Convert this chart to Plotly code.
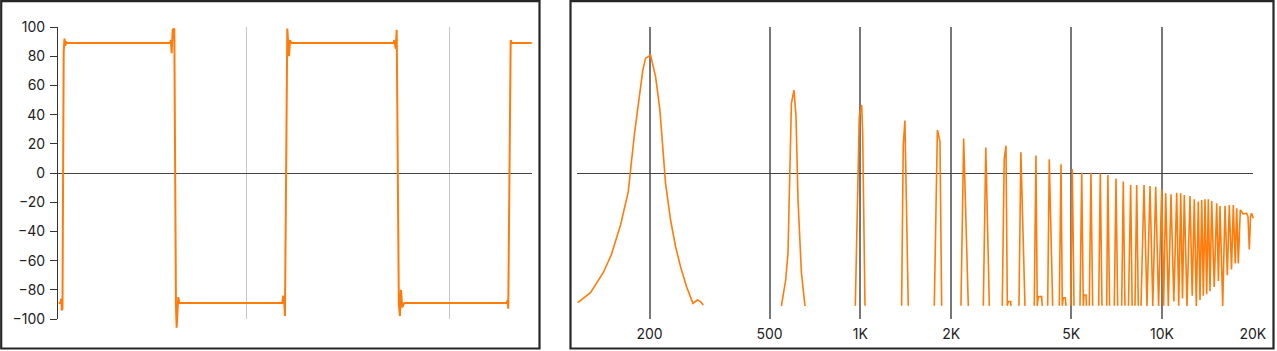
import plotly.graph_objects as go

# ---------------- data ----------------
# Left panel: band-limited square wave (x in samples, y in %)
wave_t = [14.5, 16.3, 17.0, 17.5, 18.2, 19.4, 20.2, 21.0, 21.7, 22.7, 37.4, 124.1,
          125.1, 125.8, 126.8, 128.4, 130.0, 130.7, 131.5, 132.3, 133.3, 234.8,
          235.8, 236.7, 237.4, 239.7, 241.4, 242.4, 243.8, 344.3,
          345.3, 346.5, 347.5, 349.6, 350.7, 351.7, 353.0, 355.0, 455.9,
          456.8, 457.4, 459.8, 460.8, 480.5]
wave_v = [-89, -89, -86, -94, -93, 83, 92, 87, 90, 89, 89, 89,
          91, 82, 98, 99, -90, -106, -95, -85, -89, -89,
          -84, -89, -98, 99, 80, 91, 89, 89,
          91, 85, 98, -90, -98, -80, -92, -89, -89,
          -87, -93, 91, 89, 89]

# Right panel: spectrum (Hz, level); None = gap below floor
spec_f = [115.6, 127.4, 140.4, 149.3, 160.3, 170.0, 178.3, 190.0, 194.0, 201.5, 209.4, 216.4,
          226.0, 234.8, 244.0, 253.4, 265.3, 278.5, 288.0, 295.3, 301.5, None,
          547.1, 565.4, 575.4, 590.6, 602.4, 611.8, 621.2, 637.6, 655.4, None,
          962, 991.6, 1010, 1017.7, 1035.7, None,
          1370, 1387, 1405, 1441, None,
          1758, 1800, 1836, 1860, None,
          2155, 2200, 2279, None,
          2556, 2605, 2676, None,
          2954, 2998, 3039, 3070, 3093, 3150, 3157, None,
          3356, 3405, 3513, None,
          3771, 3820, 3858, 3888, 3990, 4008, None,
          4178, 4229, 4340, None,
          4565, 4625, 4671, 4707, 4779, 4805, None,
          4981, 5042, 5108, None,
          5347, 5417, 5483, 5512, 5597, 5618, None,
          5739, 5813, 5889, None,
          6167, 6243, 6324, None,
          6555, 6615, 6702, None,
          6947, 7038, 7129, None,
          7349, 7440, 7536, None,
          7741, 7872, 7961, None,
          8137, 8244, 8344, None,
          8519, 8716, 8918, 9125, 9322, 9530, 9744, 9977, 10123, 10286, 10493, 10711,
          10943, 11188, 11360, 11534, 11694, 11856, 12103, 12383, 12593, 12796, 12993,
          13193, 13365, 13540, 13706, 13885, 14067, 14240, 14425, 14614, 14896, 15182,
          15381, 15570, 15894, 16176, 16462, 16716, 16999, 17234, 17486, 17687, 17904,
          18180, 18601, 19090, 19280, 19473, 19652, 19802, 20076]
spec_v = [-88.8, -82, -68.3, -56.2, -35.6, -12.8, 27.2, 70.5, 78.5, 80.8, 66, 43.2,
          -7.1, -32.2, -50.5, -64.2, -77.9, -89.3, -87, -88.1, -90.4, None,
          -91.1, -73.3, -55, 47.7, 56.8, 38.6, -18.5, -68.7, -91.1, None,
          -91, 38.6, 46.6, 27, -91, None,
          -91, 19, 36, -91, None,
          -91, 29.5, 21.5, -91, None,
          -91, 23.7, -91, None,
          -91, 17.4, -91, None,
          -91, 9.4, 18.7, -91, -88, -88, -91, None,
          -91, 14.2, -91, None,
          -91, 11.9, -91, -84.7, -84.7, -91, None,
          -91, 9.4, -91, None,
          -91, 6, -91, -85.4, -85.4, -91, None,
          -91, 2.5, -91, None,
          -91, 0.2, -91, -83.6, -83.6, -91, None,
          -91, 0.2, -91, None,
          -91, -0.2, -91, None,
          -91, -1.4, -91, None,
          -91, -3.7, -91, None,
          -91, -5.9, -91, None,
          -91, -8.2, -91, None,
          -91, -8.2, -91, None,
          -91, -8.2, -91, -8.9, -91, -9.4, -91, -11.2, -91, -13.9, -91, -14.6,
          -88, -13.5, -91, -13.9, -86, -15, -91, -15.8, -84, -18, -91,
          -19.6, -87, -18.5, -84, -18, -83, -18, -81, -19.2, -78, -20.8,
          -74, -22.6, -91, -22.4, -70, -21.9, -66, -21.9, -62, -24.2, -62,
          -25.3, -28, -27.6, -30, -52.3, -30, -27.6, -31]

freq_ticks = [200, 500, 1000, 2000, 5000, 10000, 20000]
freq_labels = ["200", "500", "1K", "2K", "5K", "10K", "20K"]
y_ticks = list(range(-100, 101, 20))

# ---------------- figure ----------------
W, H = 1277, 351
ORANGE = "#ff7b0a"
FONT = dict(family="Inter, Roboto, sans-serif", size=14, color="#222222")


def px_x(p):
    return p / W


def px_y(p):
    return (H - p) / H


fig = go.Figure()

# empty traces so the visible axis frames are created
fig.add_trace(go.Scatter(x=[None], y=[None], mode="lines", xaxis="x", yaxis="y",
                         hoverinfo="skip", showlegend=False))
fig.add_trace(go.Scatter(x=[None], y=[None], mode="lines", xaxis="x2", yaxis="y2",
                         hoverinfo="skip", showlegend=False))

fig.add_trace(go.Scatter(x=wave_t, y=wave_v, mode="lines", xaxis="x3", yaxis="y3",
                         line=dict(color=ORANGE, width=2), hoverinfo="skip", showlegend=False))
fig.add_trace(go.Scatter(x=spec_f, y=spec_v, mode="lines", xaxis="x4", yaxis="y4",
                         line=dict(color=ORANGE, width=1.6), hoverinfo="skip", showlegend=False,
                         connectgaps=False))

plot_dom_y = [px_y(319), px_y(27)]
data_dom_y = [px_y(340), px_y(20)]
data_rng_y = [-100 - 21 / 1.46, 100 + 7 / 1.46]

left_dom_x = [px_x(58), px_x(532)]
left_rng_x = [13.8, 480.8]

right_dom_x = [px_x(577), px_x(1253.3)]
right_rng_x = [2.0605, 4.3025]
right_data_dom_x = [px_x(577), px_x(1257)]
right_data_rng_x = [2.0605, 2.0605 + (1257 - 577) / 301.63]

fig.update_layout(
    width=W, height=H, autosize=False,
    margin=dict(l=0, r=0, t=0, b=0, pad=0, autoexpand=False),
    paper_bgcolor="white", plot_bgcolor="rgba(0,0,0,0)",
    font=FONT,
    showlegend=False,
    # left panel, visible axes
    xaxis=dict(domain=left_dom_x, range=left_rng_x, anchor="y", showgrid=True,
               gridcolor="#c4c4c4", gridwidth=1, tick0=0, dtick=200, automargin=False,
               showticklabels=False, ticks="", zeroline=False, showline=False),
    yaxis=dict(domain=plot_dom_y, range=[-100, 100], anchor="x", tickvals=y_ticks,
               ticks="outside", ticklen=7, tickcolor="#333333", tickwidth=1, automargin=False,
               ticklabelstandoff=2,
               showline=True, linecolor="#333333", linewidth=1,
               showgrid=False, zeroline=True, zerolinecolor="#444444", zerolinewidth=1,
               tickfont=FONT),
    # right panel, visible axes
    xaxis2=dict(domain=right_dom_x, range=right_rng_x, type="log", anchor="y2",
                tickvals=freq_ticks, ticktext=freq_labels, showgrid=True, automargin=False,
                gridcolor="#777777", gridwidth=1.5, ticks="outside", ticklen=2,
                tickcolor="rgba(0,0,0,0)", zeroline=False, showline=False, tickfont=FONT),
    yaxis2=dict(domain=plot_dom_y, range=[-100, 100], anchor="x2", showticklabels=False,
                ticks="", showgrid=False, showline=False, automargin=False,
                zeroline=True, zerolinecolor="#444444", zerolinewidth=1),
    # invisible data axes
    xaxis3=dict(domain=left_dom_x, range=left_rng_x, anchor="y3", visible=False, automargin=False),
    yaxis3=dict(domain=data_dom_y, range=data_rng_y, anchor="x3", visible=False, automargin=False),
    xaxis4=dict(domain=right_data_dom_x, range=right_data_rng_x, type="log", anchor="y4",
                visible=False, automargin=False),
    yaxis4=dict(domain=data_dom_y, range=data_rng_y, anchor="x4", visible=False, automargin=False),
    shapes=[
        dict(type="rect", xref="paper", yref="paper", x0=px_x(1.2), x1=px_x(539.5),
             y0=px_y(348.5), y1=px_y(1.2), line=dict(color="#262626", width=2.2),
             fillcolor="rgba(0,0,0,0)", layer="above"),
        dict(type="rect", xref="paper", yref="paper", x0=px_x(570.5), x1=px_x(1273.5),
             y0=px_y(348.5), y1=px_y(1.2), line=dict(color="#262626", width=2.2),
             fillcolor="rgba(0,0,0,0)", layer="above"),
    ],
)

fig.write_html("out.html", config={"displayModeBar": False})
